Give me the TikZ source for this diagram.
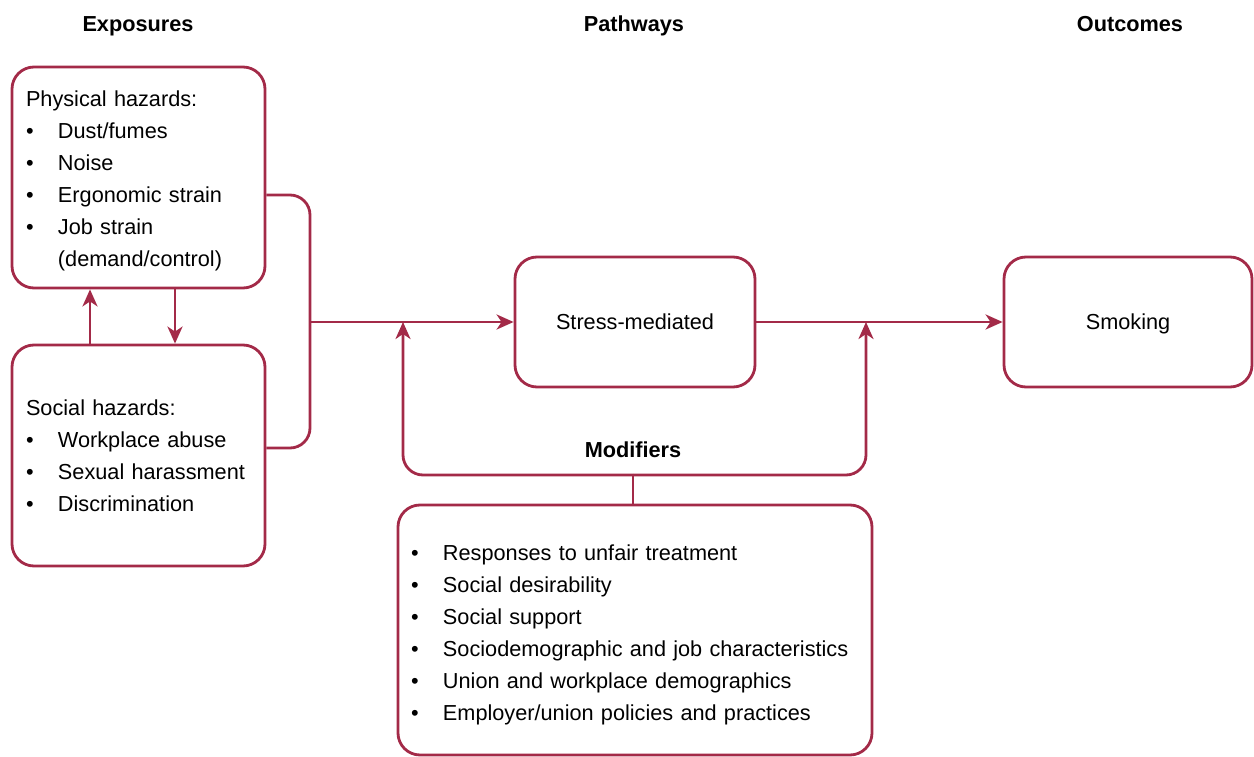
\documentclass[tikz,border=0pt]{standalone}
\usepackage{fontspec}
\setmainfont{Liberation Sans}
\usetikzlibrary{arrows.meta}
\definecolor{wine}{RGB}{163,42,72}
\newcommand{\bl}{\makebox[32pt][l]{•}}
\begin{document}
\begin{tikzpicture}[x=1pt,y=-1pt,
  box/.style={draw=wine, line width=2.8pt, rounded corners=22pt, inner ysep=0pt,
    font=\fontsize{21.7}{32}\selectfont},
  onebox/.style={box, text height=15.6pt, text depth=0pt},
  listbox/.style={box, align=left, inner xsep=14pt},
  hdr/.style={font=\bfseries\fontsize{21.7}{26}\selectfont, anchor=base, inner sep=0pt},
  line/.style={draw=wine, line width=2.8pt},
  arr/.style={line, -{Stealth[length=17pt,width=15pt,inset=5pt]}},
]
\useasboundingbox (0,0) rectangle (1254,757);

\node[hdr] (h1) at (138,32) {Exposures};
\node[hdr] (h2) at (634,32) {Pathways};
\node[hdr] (h3) at (1130,32) {Outcomes};

\node[listbox, text width=225pt, minimum width=253pt, minimum height=221pt] (phys) at (138.5,177.5)
 {\rule{0pt}{22pt}Physical hazards:\\ \bl Dust/fumes\\ \bl Noise\\ \bl Ergonomic strain\\ \bl Job strain\\ \hspace*{32pt}(demand/control)};
\node[listbox, text width=225pt, minimum width=253pt, minimum height=221pt] (soc) at (138.5,455.5)
 {Social hazards:\\ \bl Workplace abuse\\ \bl Sexual harassment\\ \bl Discrimination};

\node[onebox, minimum width=240pt, minimum height=130pt] (stress) at (635,322) {Stress-mediated};
\node[onebox, minimum width=248pt, minimum height=130pt] (smk) at (1128,322) {Smoking};

\node[hdr] (modl) at (633,457) {Modifiers};
\node[listbox, inner xsep=13pt, text width=448pt, minimum width=474pt, minimum height=250pt] (mods) at (635,630)
 {\rule{0pt}{26pt}\bl Responses to unfair treatment\\ \bl Social desirability\\ \bl Social support\\ \bl Sociodemographic and job characteristics\\ \bl Union and workplace demographics\\ \bl Employer/union policies and practices};

\coordinate (bx) at (310,322);
\coordinate (mj) at (633,475);
\coordinate (fl) at (403,322);
\coordinate (fr) at (866,322);

\draw[arr] ([xshift=-48.5pt]soc.north) -- ([xshift=-48.5pt]phys.south);
\draw[arr] ([xshift=36.5pt]phys.south) -- ([xshift=36.5pt]soc.north);

\draw[line, rounded corners=20pt] ([yshift=-17.5pt]phys.east) -| (bx) |- ([yshift=7.5pt]soc.east);
\draw[arr] (bx) -- (stress.west);
\draw[arr] (stress.east) -- (smk.west);

\draw[line] (mods.north -| mj) -- (mj);
\draw[arr, rounded corners=20pt] (mj) -| (fl);
\draw[arr, rounded corners=20pt] (mj) -| (fr);
\end{tikzpicture}
\end{document}
